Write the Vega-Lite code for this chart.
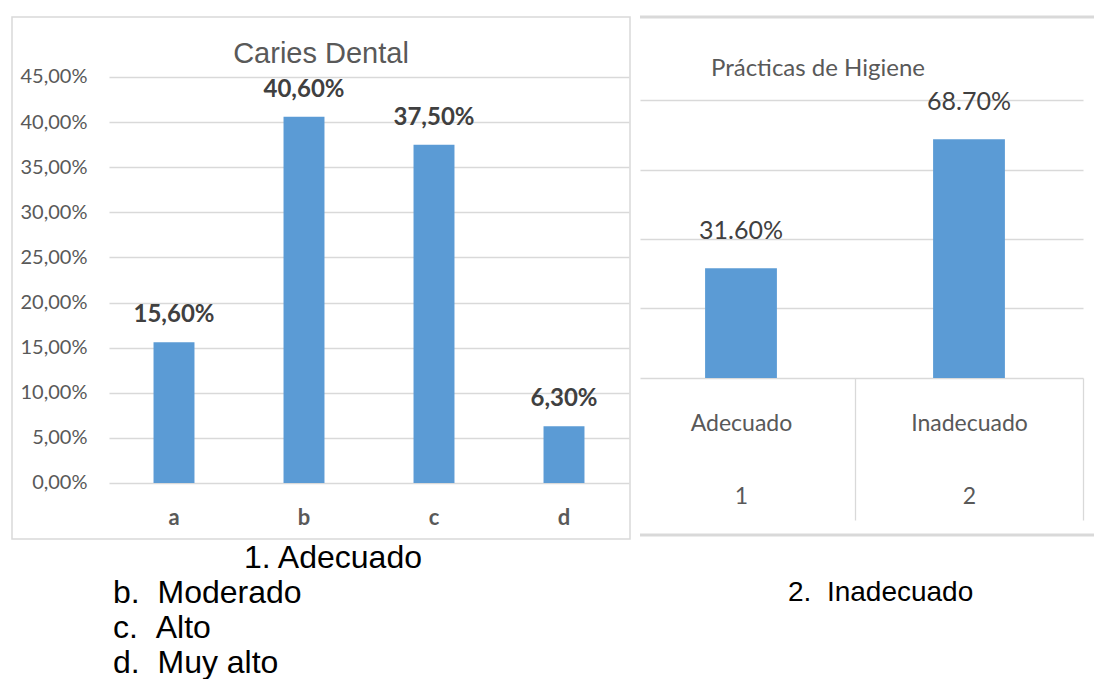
{
  "$schema": "https://vega.github.io/schema/vega-lite/v6.json",
  "background": "white",
  "padding": {"left": 11, "top": 15, "right": 0, "bottom": 0},
  "config": {
    "font": "Lato",
    "axis": {"labelFont": "Lato", "minExtent": 0}
  },
  "spacing": 1,
  "vconcat": [
    {
      "spacing": 10,
      "bounds": "flush",
      "hconcat": [
        {
          "width": 618,
          "height": 522,
          "view": {"stroke": "#d9d9d9", "strokeWidth": 1.5},
          "title": {
            "text": "Caries Dental",
            "font": "Liberation Sans",
            "fontSize": 29,
            "fontWeight": "normal",
            "color": "#595959",
            "anchor": "middle",
            "frame": "group",
            "baseline": "alphabetic",
            "offset": -75
          },
          "data": {
            "values": [
              {"nivel": "a", "valor": 0.156},
              {"nivel": "b", "valor": 0.406},
              {"nivel": "c", "valor": 0.375},
              {"nivel": "d", "valor": 0.063}
            ]
          },
          "encoding": {
            "x": {
              "field": "nivel",
              "type": "nominal",
              "sort": null,
              "scale": {"range": [97, 617], "paddingInner": 0, "paddingOuter": 0},
              "axis": {
                "orient": "bottom",
                "offset": -56,
                "title": null,
                "domain": false,
                "ticks": false,
                "labelAngle": 0,
                "labelFontWeight": "bold",
                "labelFontSize": 22,
                "labelColor": "#595959",
                "labelPadding": 24
              }
            },
            "y": {
              "field": "valor",
              "type": "quantitative",
              "scale": {"domain": [-0.0621, 0.5165], "nice": false, "zero": false},
              "axis": {
                "offset": -97,
                "title": null,
                "values": [0, 0.05, 0.1, 0.15, 0.2, 0.25, 0.3, 0.35, 0.4, 0.45],
                "labelExpr": "replace(format(datum.value, '.2%'), '.', ',')",
                "domain": false,
                "ticks": false,
                "labelFontSize": 20,
                "labelColor": "#595959",
                "labelPadding": 22,
                "gridColor": "#d9d9d9",
                "gridWidth": 1.3
              }
            }
          },
          "layer": [
            {"mark": {"type": "bar", "color": "#5b9bd5", "width": {"band": 0.315}}},
            {
              "transform": [
                {"calculate": "replace(format(datum.valor, '.2%'), '.', ',')", "as": "etiqueta"}
              ],
              "mark": {
                "type": "text",
                "font": "Lato",
                "fontWeight": "bold",
                "fontSize": 24,
                "color": "#404040",
                "baseline": "alphabetic",
                "dy": -20
              },
              "encoding": {"text": {"field": "etiqueta"}}
            }
          ]
        },
        {
          "width": 454,
          "height": 518,
          "view": {"stroke": "#d9d9d9", "strokeWidth": 3, "strokeDash": [454, 518]},
          "title": {
            "text": "Prácticas de Higiene",
            "font": "Lato",
            "fontSize": 24,
            "fontWeight": "normal",
            "color": "#595959",
            "anchor": "start",
            "frame": "group",
            "dx": 71,
            "baseline": "alphabetic",
            "offset": -83
          },
          "data": {
            "values": [
              {"practica": "Adecuado", "valor": 0.316},
              {"practica": "Inadecuado", "valor": 0.687}
            ]
          },
          "encoding": {
            "x": {
              "field": "practica",
              "type": "nominal",
              "sort": null,
              "scale": {"domain": ["Adecuado", "Inadecuado"], "range": [-13, 443], "paddingInner": 0, "paddingOuter": 0},
              "axis": {
                "orient": "bottom",
                "offset": -157,
                "title": null,
                "domain": false,
                "ticks": true,
                "tickBand": "extent",
                "tickSize": 142,
                "tickWidth": 1.3,
                "tickColor": {"condition": {"test": "datum.extra", "value": "transparent"}, "value": "#d9d9d9"},
                "labelAngle": 0,
                "labelExpr": "indexof(['Adecuado', 'Inadecuado'], datum.value) < 0 ? '' : [datum.label, '' + (indexof(['Adecuado', 'Inadecuado'], datum.value) + 1)]",
                "labelLineHeight": 73,
                "labelFontSize": 23,
                "labelColor": "#595959",
                "labelPadding": -108
              }
            },
            "y": {
              "field": "valor",
              "type": "quantitative",
              "scale": {"domain": [-0.452, 1.039], "nice": false, "zero": false},
              "axis": {
                "title": null,
                "labels": false,
                "domain": false,
                "ticks": false,
                "values": [0, 0.2, 0.4, 0.6, 0.8],
                "gridColor": "#d9d9d9",
                "gridWidth": 1.3,
                "gridDash": [0, 13, 443]
              }
            }
          },
          "layer": [
            {"mark": {"type": "bar", "color": "#5b9bd5", "width": {"band": 0.315}}},
            {
              "mark": {
                "type": "text",
                "font": "Lato",
                "fontSize": 25,
                "color": "#404040",
                "baseline": "alphabetic",
                "dy": -29
              },
              "encoding": {"text": {"field": "valor", "type": "quantitative", "format": ".2%"}}
            }
          ]
        }
      ]
    },
    {
      "width": 1083,
      "height": 139,
      "view": {"stroke": null},
      "data": {
        "values": [
          {"texto": "1. Adecuado", "linea": 1, "grafico": "Caries Dental"},
          {"texto": "b.\u00a0\u00a0Moderado", "linea": 2, "grafico": "Caries Dental"},
          {"texto": "c.\u00a0\u00a0Alto", "linea": 3, "grafico": "Caries Dental"},
          {"texto": "d.\u00a0\u00a0Muy alto", "linea": 4, "grafico": "Caries Dental"},
          {"texto": "2.\u00a0\u00a0Inadecuado", "linea": 2, "grafico": "Prácticas de Higiene"}
        ]
      },
      "encoding": {
        "y": {"field": "linea", "type": "ordinal", "scale": {"paddingInner": 0, "paddingOuter": 0}, "axis": null},
        "text": {"field": "texto"}
      },
      "resolve": {"scale": {"x": "independent"}},
      "layer": [
        {
          "transform": [{"filter": "datum.linea === 1"}],
          "mark": {"type": "text", "align": "center", "baseline": "middle", "font": "Liberation Sans", "fontSize": 32, "color": "#000000"},
          "encoding": {
            "x": {
              "field": "grafico",
              "type": "nominal",
              "scale": {"type": "point", "range": [0, 642], "padding": 0},
              "axis": null
            }
          }
        },
        {
          "transform": [{"filter": "datum.linea > 1 && datum.grafico === 'Caries Dental'"}],
          "mark": {"type": "text", "align": "left", "baseline": "middle", "font": "Liberation Sans", "fontSize": 32, "color": "#000000"},
          "encoding": {
            "x": {
              "field": "grafico",
              "type": "nominal",
              "scale": {"type": "point", "range": [0, 202], "padding": 0},
              "axis": null
            }
          }
        },
        {
          "transform": [{"filter": "datum.grafico === 'Prácticas de Higiene'"}],
          "mark": {"type": "text", "align": "left", "baseline": "middle", "font": "Liberation Sans", "fontSize": 28, "color": "#000000"},
          "encoding": {
            "x": {
              "field": "grafico",
              "type": "nominal",
              "scale": {"type": "point", "range": [0, 1552], "padding": 0},
              "axis": null
            }
          }
        }
      ]
    }
  ]
}
